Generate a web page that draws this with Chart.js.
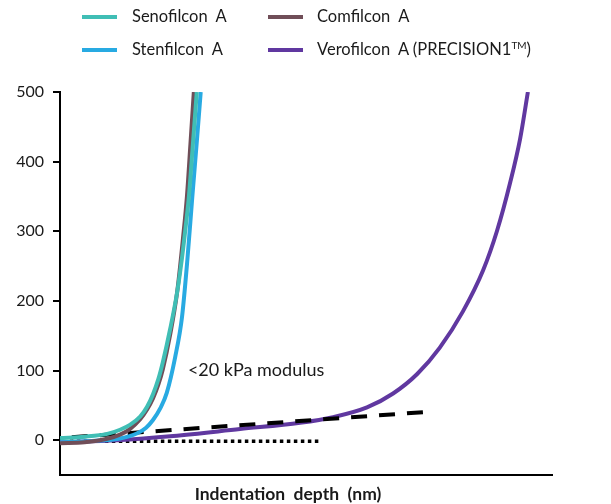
<!DOCTYPE html>
<html>
<head>
<meta charset="utf-8">
<script src="https://cdn.jsdelivr.net/npm/chart.js@4/dist/chart.umd.min.js"></script>
<style>
  html, body { margin: 0; padding: 0; background: #fff; }
  #wrap { position: relative; width: 611px; height: 504px; }
  #c { position: absolute; left: 0; top: 0; }
  .lg { position: absolute; font-family: Lato, "Open Sans", sans-serif; font-size: 16.5px; color: #1a1a1a; white-space: pre; }
  .sw { position: absolute; width: 35px; height: 4px; }
  sup { font-size: 10px; vertical-align: 6px; line-height: 0; }
</style>
</head>
<body>
<div id="wrap">
  <canvas id="c" width="611" height="504"></canvas>
</div>
<script>
// ---- data (x: relative indentation depth, y: force value) ----
const senofilconX = [0, 5, 9.6, 12.2, 14.2, 16.3, 17.7, 18.9, 20.0, 20.9, 22.4, 23.8, 24.8, 25.6, 26.2, 27.0, 27.8];
const senofilconY = [3, 5, 9, 15, 22, 34, 48, 66, 88, 112, 160, 212, 262, 310, 350, 424, 500];

const comfilconX = [0, 5, 9.6, 12.2, 14.2, 16.3, 17.7, 18.9, 20.0, 20.9, 22.4, 23.8, 25.0, 25.8, 26.5, 27.2];
const comfilconY = [-4.3, -3, 2, 8, 16, 30, 44, 60, 80, 102, 152, 212, 290, 350, 424, 500];

const stenfilconX = [0, 8.1, 12.2, 15.7, 17.5, 18.9, 20.4, 21.7, 23.4, 24.8, 25.9, 26.9, 27.8, 28.6];
const stenfilconY = [-3, -0.5, 2.5, 10, 18, 29, 46, 68, 119, 177, 260, 350, 428, 500];

const verofilconX = [0, 11.6, 23.0, 36.6, 48.8, 55.5, 62.4, 67.7, 72.6, 77.2, 81.9, 86.0, 88.8, 91.5, 93.5, 95.1];
const verofilconY = [-3, 0, 6, 16, 25, 33, 47, 67, 95, 133, 185, 244, 300, 370, 432, 500];

const dashedX = [2.4, 73.8];
const dashedY = [4.3, 40.2];
const dottedX = [2.0, 52.8];
const dottedY = [-1.5, -1.5];

const yTicks = [0, 100, 200, 300, 400, 500];
const seriesLabels = ["Senofilcon  A", "Comfilcon  A", "Stenfilcon  A", "Verofilcon  A (PRECISION1\u2122)"];
const annotationText = "<20 kPa modulus";
const annotationAt = [26.0, 100.6];
const xTitle = "Indentation  depth  (nm)";

// ---- helpers ----
const pts = (xs, ys) => xs.map((x, i) => ({ x: x, y: ys[i] }));
const colors = {
  seno: "rgb(64,190,181)",
  comf: "rgb(112,78,88)",
  sten: "rgb(40,170,226)",
  vero: "rgb(96,56,160)"
};

// ---- HTML legend ----
const wrap = document.getElementById("wrap");
const legendItems = [
  { label: seriesLabels[0], color: colors.seno, lx: 82, tx: 132, cy: 17 },
  { label: seriesLabels[1], color: colors.comf, lx: 268, tx: 317, cy: 17 },
  { label: seriesLabels[2], color: colors.sten, lx: 82, tx: 132, cy: 50 },
  { label: seriesLabels[3], color: colors.vero, lx: 268, tx: 317, cy: 50 }
];
legendItems.forEach(it => {
  const sw = document.createElement("div");
  sw.className = "sw";
  sw.style.left = it.lx + "px";
  sw.style.top = (it.cy - 2) + "px";
  sw.style.background = it.color;
  wrap.appendChild(sw);
  const t = document.createElement("div");
  t.className = "lg";
  t.style.left = it.tx + "px";
  t.style.top = (it.cy - 11) + "px";
  const parts = it.label.split("\u2122");
  if (parts.length > 1) {
    t.appendChild(document.createTextNode(parts[0]));
    const s = document.createElement("sup");
    s.textContent = "TM";
    t.appendChild(s);
    t.appendChild(document.createTextNode(parts[1]));
  } else {
    t.textContent = it.label;
  }
  wrap.appendChild(t);
});

// ---- text plugin ----
const textPlugin = {
  id: "texts",
  afterDraw(chart) {
    const ctx = chart.ctx;
    const xs = chart.scales.x, ys = chart.scales.y;
    ctx.save();
    ctx.fillStyle = "#1a1a1a";
    ctx.font = "18px Lato, 'Open Sans', sans-serif";
    ctx.textAlign = "left";
    ctx.textBaseline = "middle";
    ctx.fillText(annotationText, xs.getPixelForValue(annotationAt[0]), ys.getPixelForValue(annotationAt[1]));
    ctx.font = "bold 17.5px Lato, 'Open Sans', sans-serif";
    ctx.textAlign = "center";
    ctx.fillText(xTitle, (chart.chartArea.left + chart.chartArea.right) / 2 - 18, 494);
    ctx.restore();
  }
};

const common = { pointRadius: 0, pointHoverRadius: 0, fill: false, cubicInterpolationMode: "monotone", borderWidth: 4 };

new Chart(document.getElementById("c"), {
  type: "line",
  data: {
    datasets: [
      Object.assign({ label: seriesLabels[0], data: pts(senofilconX, senofilconY), borderColor: colors.seno, order: 1 }, common),
      Object.assign({ label: seriesLabels[1], data: pts(comfilconX, comfilconY), borderColor: colors.comf, order: 2 }, common),
      Object.assign({ label: seriesLabels[2], data: pts(stenfilconX, stenfilconY), borderColor: colors.sten, order: 3 }, common),
      Object.assign({ label: seriesLabels[3], data: pts(verofilconX, verofilconY), borderColor: colors.vero, order: 5 }, common),
      { label: "dashed", data: pts(dashedX, dashedY), borderColor: "#000", borderWidth: 4, borderDash: [16, 12], pointRadius: 0, fill: false, order: 4 },
      { label: "dotted", data: pts(dottedX, dottedY), borderColor: "#000", borderWidth: 3.5, borderDash: [3.5, 3.5], pointRadius: 0, fill: false, order: 6 }
    ]
  },
  options: {
    responsive: false,
    animation: false,
    layout: { padding: { left: 0, right: 59, top: 92, bottom: 0 } },
    plugins: { legend: { display: false }, tooltip: { enabled: false } },
    scales: {
      x: {
        type: "linear",
        min: 0,
        max: 100,
        ticks: { display: false },
        grid: { display: false, drawTicks: false },
        border: { display: true, color: "#000", width: 2 },
        afterFit(scale) { scale.height = 29; }
      },
      y: {
        type: "linear",
        min: -50,
        max: 500,
        afterBuildTicks(scale) { scale.ticks = yTicks.map(v => ({ value: v })); },
        ticks: { color: "#1a1a1a", font: { family: "Lato, 'Open Sans', sans-serif", size: 16 }, padding: 9 },
        grid: { drawOnChartArea: false, drawTicks: true, tickLength: 7, color: "#000", lineWidth: 2 },
        border: { display: true, color: "#000", width: 2 },
        afterFit(scale) { scale.width = 60; }
      }
    }
  },
  plugins: [textPlugin]
});
</script>
</body>
</html>
